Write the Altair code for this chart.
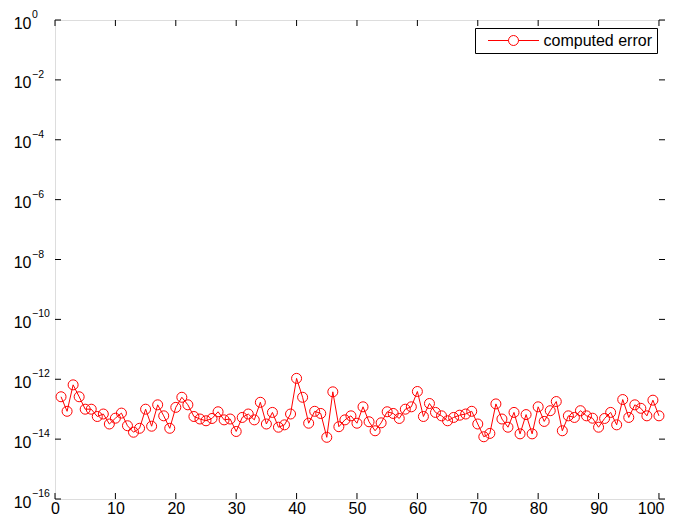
import altair as alt
import pandas as pd

# ---- data ----
iterations = list(range(1, 101))
errors = [
    2.6e-13, 8.5e-14, 6.5e-13, 2.6e-13, 1.0e-13, 1.0e-13, 5.7e-14, 6.9e-14, 3.2e-14, 5.0e-14,
    7.4e-14, 2.8e-14, 1.7e-14, 2.3e-14, 1.0e-13, 2.7e-14, 1.4e-13, 6.0e-14, 2.3e-14, 1.15e-13,
    2.5e-13, 1.4e-13, 5.7e-14, 4.7e-14, 4.1e-14, 4.9e-14, 8.2e-14, 4.4e-14, 4.7e-14, 1.8e-14,
    5.3e-14, 6.9e-14, 4.4e-14, 1.7e-13, 3.2e-14, 7.8e-14, 2.5e-14, 3.0e-14, 6.9e-14, 1.07e-12,
    2.5e-13, 3.4e-14, 8.5e-14, 7.2e-14, 1.15e-14, 3.8e-13, 2.6e-14, 4.4e-14, 6.0e-14, 3.4e-14,
    1.2e-13, 3.8e-14, 1.9e-14, 3.5e-14, 8.2e-14, 7.2e-14, 4.9e-14, 1.0e-13, 1.2e-13, 3.9e-13,
    5.7e-14, 1.55e-13, 7.8e-14, 6.0e-14, 4.1e-14, 5.3e-14, 6.3e-14, 6.9e-14, 8.5e-14, 3.2e-14,
    1.2e-14, 1.55e-14, 1.5e-13, 4.7e-14, 2.5e-14, 7.8e-14, 1.5e-14, 6.6e-14, 1.5e-14, 1.2e-13,
    3.9e-14, 8.9e-14, 1.8e-13, 1.9e-14, 6.0e-14, 5.3e-14, 8.9e-14, 6.0e-14, 5.0e-14, 2.5e-14,
    4.9e-14, 7.8e-14, 3.0e-14, 2.1e-13, 5.3e-14, 1.4e-13, 1.07e-13, 6.0e-14, 2.0e-13, 6.0e-14,
]
series_name = "computed error"
x_ticks = [0, 10, 20, 30, 40, 50, 60, 70, 80, 90, 100]
y_tick_exponents = [0, -2, -4, -6, -8, -10, -12, -14, -16]

# ---- tables ----
df = pd.DataFrame({"k": iterations, "err": errors, "series": series_name})
y_tick_values = [10.0 ** e for e in y_tick_exponents]
yt = pd.DataFrame({"v": y_tick_values,
                   "exp": [str(e).replace("-", "\u2212") for e in y_tick_exponents]})
xt = pd.DataFrame({"x": x_ticks})

W, H = 610, 479
FONT = "Liberation Sans"
TICK = 6

xscale = alt.Scale(domain=[0, 101], nice=False, zero=False)
yscale = alt.Scale(type="log", domain=[1e-16, 1], nice=False)

last_x = x_ticks[-1]
xaxis = alt.Axis(
    values=x_ticks, title=None, labelPadding=14, labelBaseline="alphabetic",
    labelAlign={"condition": {"test": f"datum.value === {last_x}", "value": "right"},
                "value": "center"},
    labelOffset={"condition": {"test": f"datum.value === {last_x}", "value": 5},
                 "value": 0},
    labelFontSize=16, labelFont=FONT, labelColor="black",
    ticks=False, domain=False, grid=False)
yaxis = alt.Axis(values=y_tick_values, title=None, labelExpr="'10'", labelPadding=24,
                 labelOffset=3, labelFontSize=16, labelFont=FONT, labelColor="black",
                 ticks=False, domain=False, grid=False)

legend_path = "M -5.1 0 L -1 0 M 1 0 L 5.1 0 M 1 0 A 1 1 0 1 1 -1 0 A 1 1 0 1 1 1 0"

main = alt.Chart(df).mark_line(
    strokeWidth=1,
    point=alt.OverlayMarkDef(filled=False, shape="circle", size=100, strokeWidth=1),
).encode(
    x=alt.X("k:Q", scale=xscale, axis=xaxis),
    y=alt.Y("err:Q", scale=yscale, axis=yaxis),
    color=alt.Color(
        "series:N",
        scale=alt.Scale(range=["#ff0000"]),
        legend=alt.Legend(
            title=None, orient="none", legendX=420, legendY=8,
            symbolType=legend_path, symbolSize=100, symbolStrokeWidth=1,
            symbolStrokeColor="#ff0000", symbolFillColor="transparent",
            symbolOffset=26, labelOffset=22, labelFontSize=16, labelFont=FONT,
            labelColor="black", padding=4.5, strokeColor="black", fillColor="white",
            cornerRadius=0,
        ),
    ),
)

ytick_left = alt.Chart(yt).mark_rule(color="black", strokeWidth=1).encode(
    y=alt.Y("v:Q", scale=yscale, axis=yaxis), x=alt.value(0), x2=alt.value(TICK))
ytick_right = alt.Chart(yt).mark_rule(color="black", strokeWidth=1).encode(
    y=alt.Y("v:Q", scale=yscale, axis=yaxis), x=alt.value(W - TICK), x2=alt.value(W))
xtick_bottom = alt.Chart(xt).mark_rule(color="black", strokeWidth=1).encode(
    x=alt.X("x:Q", scale=xscale, axis=xaxis), y=alt.value(H - TICK), y2=alt.value(H))
xtick_top = alt.Chart(xt).mark_rule(color="black", strokeWidth=1).encode(
    x=alt.X("x:Q", scale=xscale, axis=xaxis), y=alt.value(0), y2=alt.value(TICK))

exponents = alt.Chart(yt).mark_text(
    align="left", baseline="middle", dy=-5, fontSize=10.5, font=FONT, color="black"
).encode(
    y=alt.Y("v:Q", scale=yscale, axis=yaxis), x=alt.value(-23), text="exp:N")

chart = alt.layer(
    ytick_left, ytick_right, xtick_bottom, xtick_top, main, exponents
).properties(
    width=W, height=H,
    autosize=alt.AutoSizeParams(type="none"),
    padding={"left": 47, "top": 12, "right": 0, "bottom": 17},
).configure_view(
    stroke="black", strokeWidth=1
).configure(background="white")

chart.save("out.html", embed_options={"renderer": "svg", "actions": False})
